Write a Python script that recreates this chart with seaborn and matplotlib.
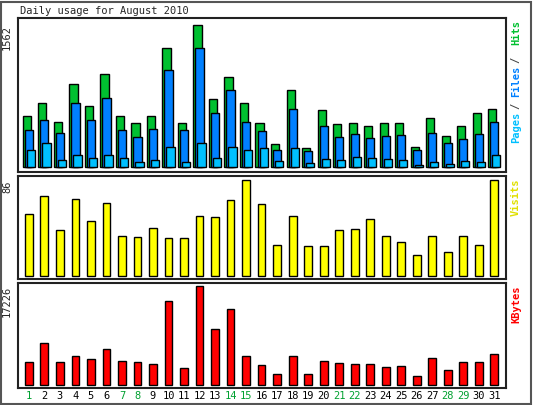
import numpy as np
import matplotlib
matplotlib.use('Agg')
import matplotlib.pyplot as plt
import seaborn as sns

days = list(range(1, 32))
hits = [560, 700, 496, 916, 668, 1027, 560, 485, 560, 1314, 485, 1562, 743, 991, 700, 485,
        248, 840, 205, 625, 474, 485, 452, 485, 485, 215, 539, 334, 452, 592, 636]
files = [409, 517, 366, 700, 517, 754, 409, 323, 420, 1066, 409, 1304, 593, 840, 496, 388,
         183, 636, 172, 452, 323, 356, 312, 334, 345, 183, 366, 259, 302, 356, 496]
pages = [183, 259, 75, 129, 97, 129, 97, 54, 75, 215, 54, 259, 97, 215, 183, 205,
         65, 205, 43, 86, 75, 108, 97, 86, 75, 22, 54, 32, 65, 54, 129]
visits = [56, 72, 41, 69, 49, 66, 36, 35, 43, 34, 34, 54, 53, 68, 86, 65,
          28, 54, 27, 27, 41, 42, 51, 36, 30, 19, 36, 21, 36, 28, 86]
kbytes = [3989, 7253, 3989, 4896, 4533, 6165, 4170, 3989, 3626, 14506, 2901, 17226, 9610, 13236, 4896, 3445,
          1813, 4896, 1813, 4170, 3808, 3626, 3626, 3082, 3264, 1451, 4714, 2538, 3989, 3989, 5258]
weekend = [1, 7, 8, 14, 15, 21, 22, 28, 29]

sns.set_style('white')
plt.rcParams['font.family'] = ['DejaVu Sans Mono']
FS = 7.5

W, H = 533, 405
fig = plt.figure(figsize=(W / 100, H / 100), dpi=100)
fig.patch.set_facecolor('white')
fig.add_artist(plt.Rectangle((1 / W, 1 / H), 1 - 3 / W, 1 - 3 / H, transform=fig.transFigure,
                             fill=False, edgecolor='#555555', lw=1.5))

def panel(y0, y1):
    ax = fig.add_axes([18 / W, 1 - y1 / H, (506 - 18) / W, (y1 - y0) / H])
    ax.set_xlim(0.3, 31.75)
    for s in ax.spines.values():
        s.set_linewidth(1.5)
        s.set_color('#222222')
    ax.set_xticks([])
    ax.set_yticks([])
    return ax

def ylabel(ax, val, txt):
    ax.text(-0.012, val, txt, rotation=90, fontsize=FS, ha='right', va='top',
            transform=ax.get_yaxis_transform(), clip_on=False)

x = np.array(days, dtype=float)
w = 0.53
ek = dict(edgecolor='black', linewidth=1)

ax1 = panel(18, 172)
ax1.bar(x - 0.13, hits, width=w, color='#00c030', **ek)
ax1.bar(x, files, width=w, color='#0080ff', **ek)
ax1.bar(x + 0.13, pages, width=w, color='#00c0ff', **ek)
ax1.set_ylim(-60, 1640)
ax1.text(0.005, 1.015, 'Daily usage for August 2010', transform=ax1.transAxes, fontsize=FS, va='bottom')
ylabel(ax1, 1562, '1562')
for txt, col, yy in [('Hits', '#00c030', 0.99), ('/', '#444444', 0.75), ('Files', '#0080ff', 0.69),
                     ('/', '#444444', 0.45), ('Pages', '#00c0ff', 0.39)]:
    ax1.text(1.01, yy, txt, rotation=90, color=col, fontsize=FS, ha='left', va='top',
             transform=ax1.transAxes, fontweight='bold')

ax2 = panel(176, 279)
sns.barplot(x=x, y=visits, native_scale=True, color='#ffff00', width=0.5, saturation=1,
            ax=ax2, **ek)
ax2.set_ylim(-3, 90)
ax2.set_xlim(0.3, 31.75)
ax2.set_xticks([])
ax2.set_yticks([])
ylabel(ax2, 86, '86')
ax2.text(1.01, 0.98, 'Visits', rotation=90, color='#e0e000', fontsize=FS, ha='left', va='top',
         transform=ax2.transAxes, fontweight='bold')

ax3 = panel(283, 388)
sns.barplot(x=x, y=kbytes, native_scale=True, color='#ff0000', width=0.5, saturation=1,
            ax=ax3, **ek)
ax3.set_ylim(-600, 17700)
ax3.set_xlim(0.3, 31.75)
ax3.set_yticks([])
ax3.set_xticks(days)
ax3.set_xticklabels([str(d) for d in days], fontsize=FS)
ax3.tick_params(axis='x', length=0, pad=2)
for lab, d in zip(ax3.get_xticklabels(), days):
    lab.set_color('#00a030' if d in weekend else 'black')
ylabel(ax3, 17226, '17226')
ax3.text(1.01, 0.98, 'KBytes', rotation=90, color='#ff0000', fontsize=FS, ha='left', va='top',
         transform=ax3.transAxes, fontweight='bold')

fig.savefig('out.png', dpi=100)
